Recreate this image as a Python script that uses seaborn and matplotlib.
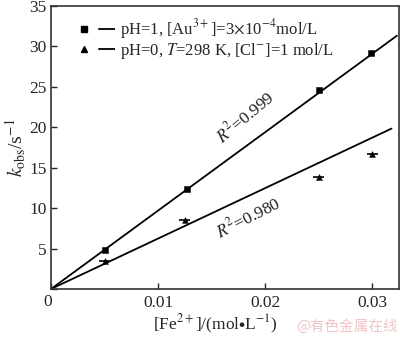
import numpy as np
import pandas as pd
import seaborn as sns
import matplotlib
matplotlib.use("Agg")
import matplotlib.pyplot as plt
from matplotlib.lines import Line2D

sns.set_style("ticks")
plt.rcParams['font.family'] = ['Liberation Serif', 'DejaVu Serif']
plt.rcParams['mathtext.fontset'] = 'stix'

# data
fe_sq = [0.005, 0.0127, 0.025, 0.0299]
k_sq = [4.8, 12.4, 24.6, 29.2]
fe_tri = [0.005, 0.0125, 0.025, 0.030]
k_tri = [3.5, 8.5, 13.9, 16.7]
slope_sq = 970.0
slope_tri = 624.0
fit_x_end = [0.0323, 0.0318]
labels = [r"pH=1, [Au$^{3+}$]=3$\times$10$^{-4}$mol/L",
          r"pH=0, $T$=298 K, [Cl$^{-}$]=1 mol/L"]
xticks = [0, 0.01, 0.02, 0.03]
xticklabels = ["", "0.01", "0.02", "0.03"]
yticks = [0, 5, 10, 15, 20, 25, 30, 35]
yticklabels = ["", "5", "10", "15", "20", "25", "30", "35"]

fig = plt.figure(figsize=(4.0, 3.38), dpi=100)
ax = fig.add_axes([0.1275, 0.145, 0.87, 0.837])

# fit lines
xs1 = np.array([0, fit_x_end[0]])
xs2 = np.array([0, fit_x_end[1]])
sns.lineplot(x=xs1, y=slope_sq * xs1, ax=ax, color='black', lw=1.3)
sns.lineplot(x=xs2, y=slope_tri * xs2, ax=ax, color='black', lw=1.3)

df1 = pd.DataFrame({'x': fe_sq, 'y': k_sq})
df2 = pd.DataFrame({'x': fe_tri, 'y': k_tri})
sns.scatterplot(data=df1, x='x', y='y', ax=ax, marker='s', s=22, color='black', edgecolor='black')
ax.errorbar(fe_tri, k_tri, xerr=0.0005, fmt='none', ecolor='black', lw=1.2)
sns.scatterplot(data=df2, x='x', y='y', ax=ax, marker='^', s=18, color='black', edgecolor='black')

# legend handles: marker, gap, short line
h1 = Line2D([], [], color='black', marker='s', markersize=4, lw=1.3)
h2 = Line2D([], [], color='black', marker='^', markersize=4, lw=1.3)
leg = ax.legend([h1, h2], labels, loc='upper left', bbox_to_anchor=(0.075, 0.985),
                frameon=False, fontsize=12, handlelength=1.9, handletextpad=0.25,
                labelspacing=0.0, borderaxespad=0)
for h in leg.legend_handles:
    xd = h.get_xdata()
    x0, x1 = xd[0], xd[-1]
    w = x1 - x0
    h.set_xdata([x0, x0 + 0.45 * w, x1])
    h.set_ydata([h.get_ydata()[0]] * 3)
    h.set_markevery([0])
    h.set_linestyle((0, (0.001, 0.45 * w / 1.3 - 0.001, 0.55 * w / 1.3)))

ax.set_xlim(0, 0.0325)
ax.set_ylim(0, 35)
ax.set_xticks(xticks)
ax.set_xticklabels(xticklabels)
ax.set_yticks(yticks)
ax.set_yticklabels(yticklabels)
ax.tick_params(direction='in', labelsize=12.5, length=4, width=1)
ax.tick_params(axis='x', pad=4)
ax.tick_params(axis='y', pad=3)
for s in ax.spines.values():
    s.set_linewidth(1.2)
    s.set_color('#333333')

ax.text(-0.0003, -0.6, "0", fontsize=12.5, ha='center', va='top')

ax.set_xlabel(r"[Fe$^{2+}$]/(mol$\bullet$L$^{-1}$)", fontsize=12.5)
ax.xaxis.set_label_coords(0.471, -0.085)
ax.set_ylabel(r"$k_{\mathrm{obs}}$/s$^{-1}$", fontsize=14, labelpad=1)

ax.text(0.0181, 21.3, r"$R^2$=0.999", rotation=40, fontsize=12.5, ha='center', va='center')
ax.text(0.0184, 8.8, r"$R^2$=0.980", rotation=27, fontsize=12.5, ha='center', va='center')

fig.text(0.995, 0.012, "@有色金属在线", color='#f2c4c4', fontsize=10.5,
         ha='right', va='bottom', family=['Noto Sans CJK SC', 'DejaVu Sans'])

fig.savefig("out.png", dpi=100)
